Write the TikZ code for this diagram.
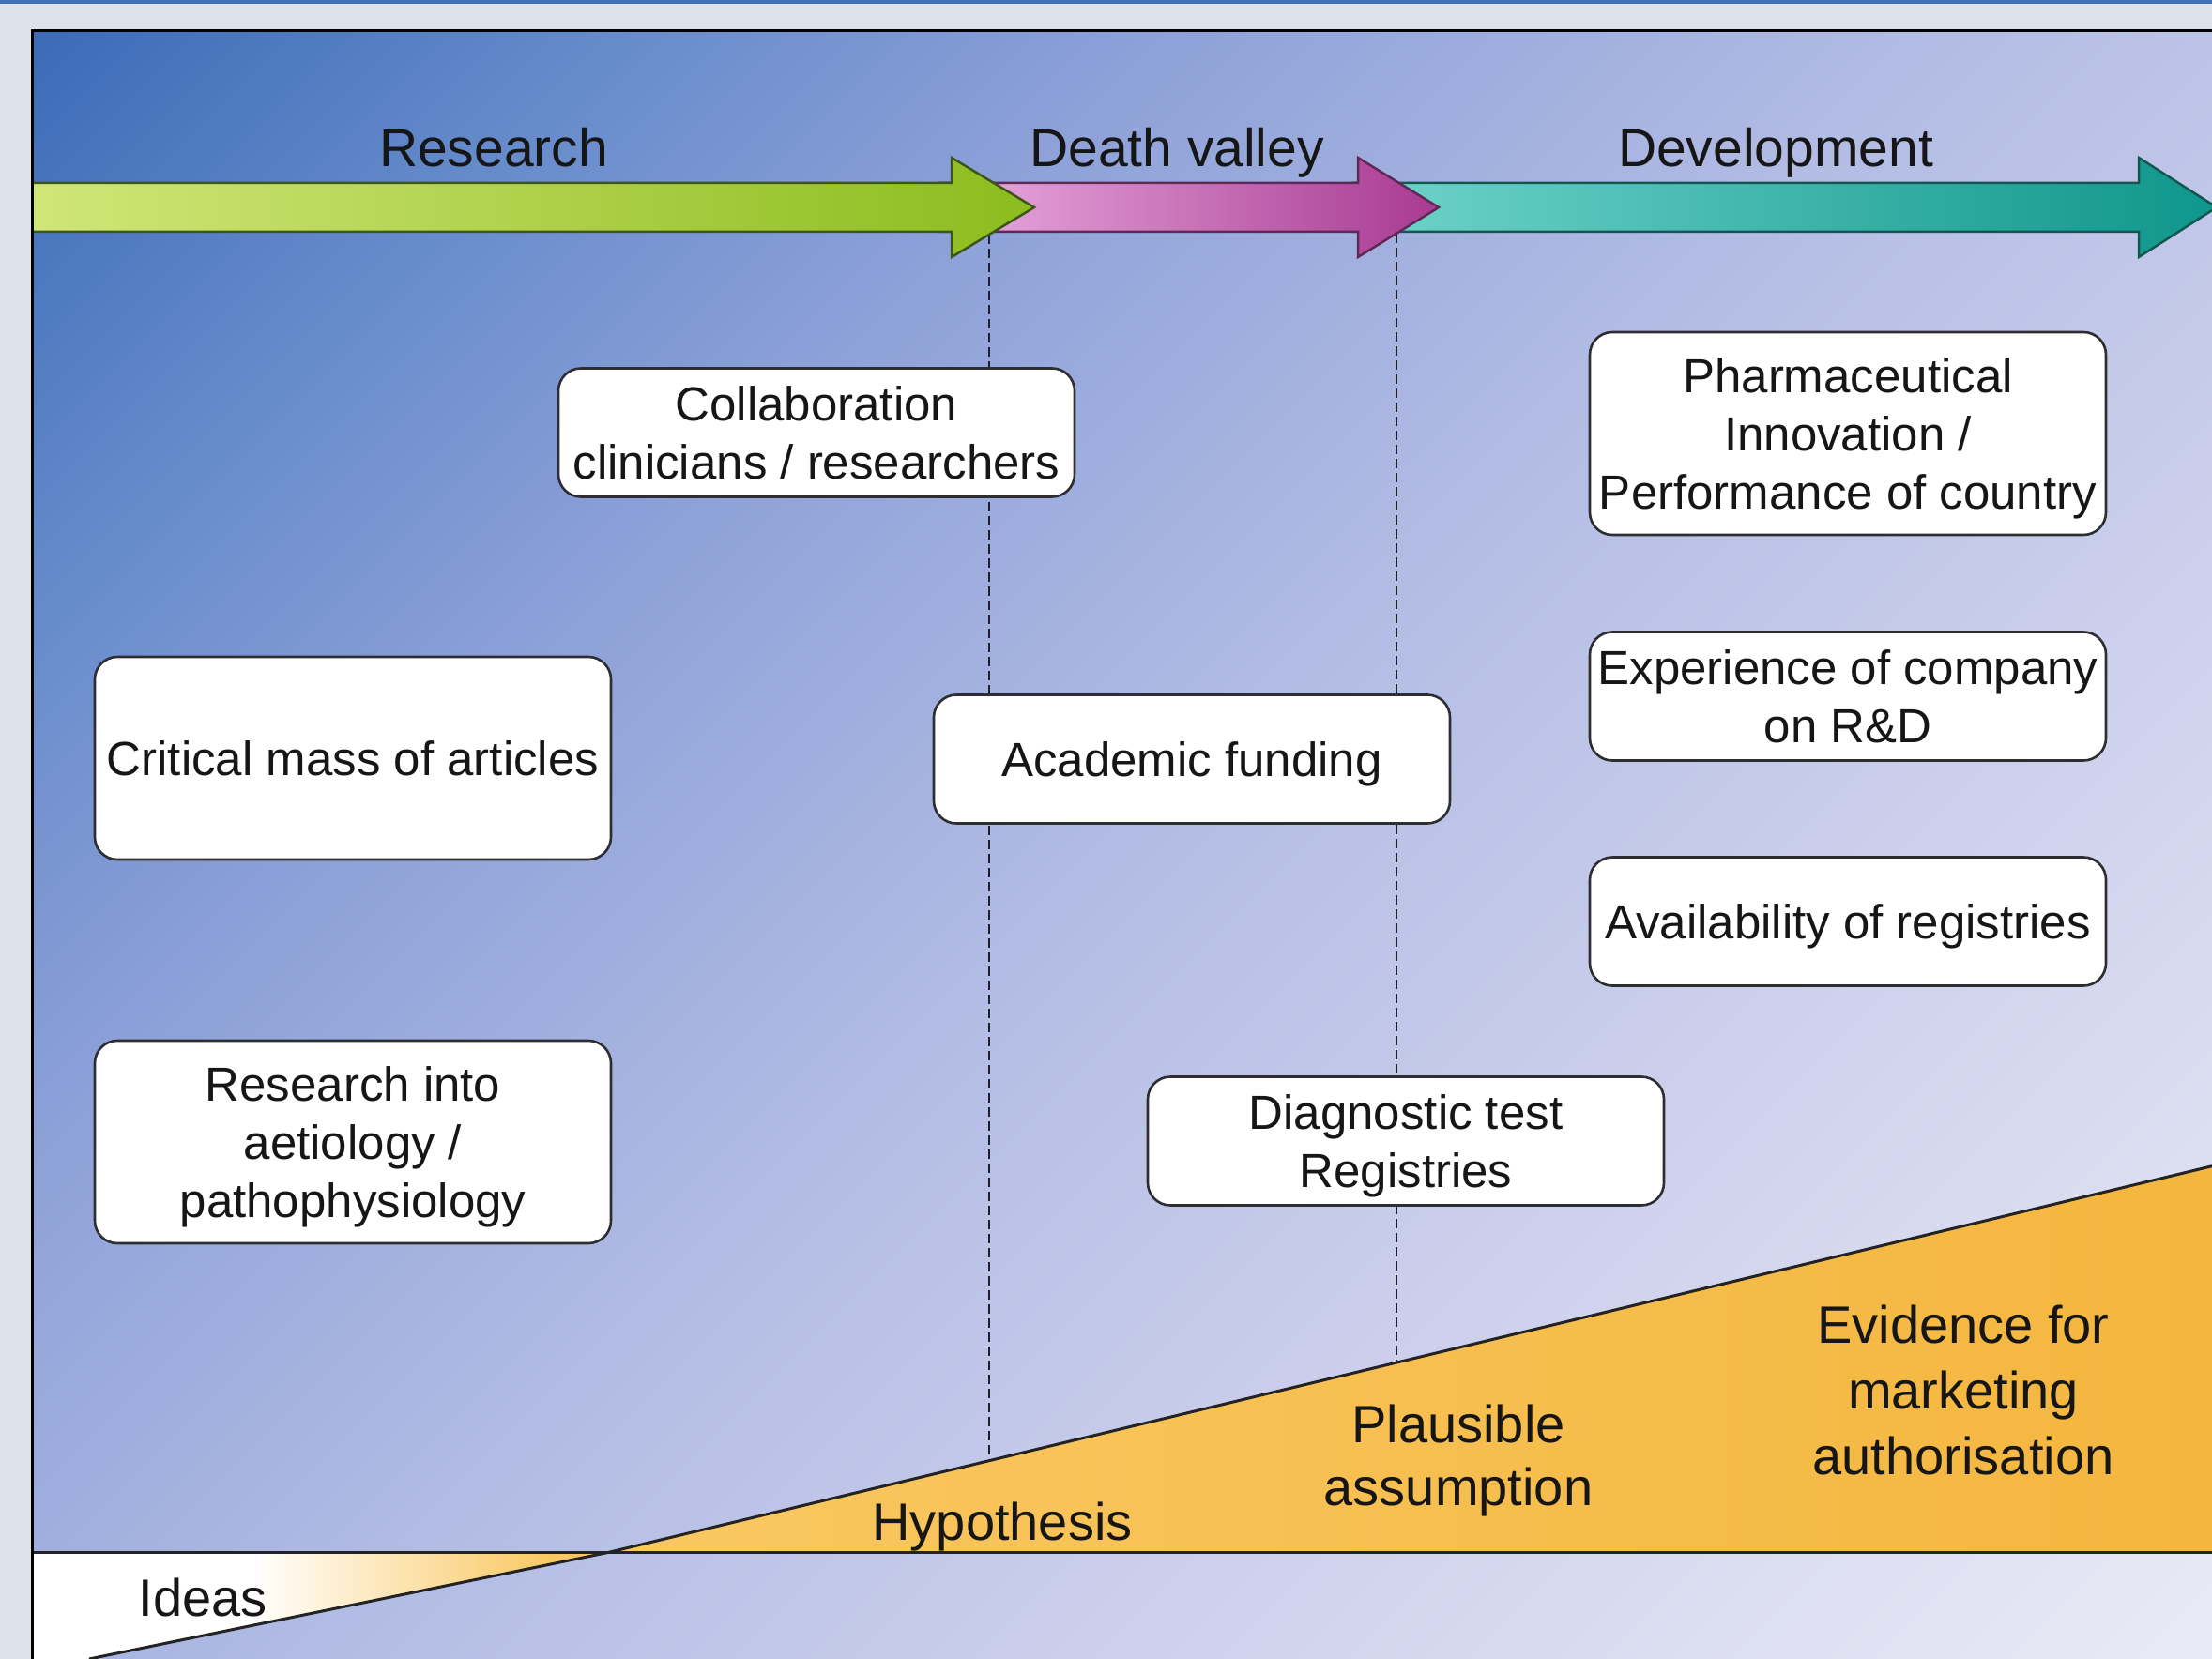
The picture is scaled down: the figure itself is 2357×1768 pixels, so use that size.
\documentclass[tikz,border=0pt]{standalone}
\usepackage{fontspec}
\setmainfont{Liberation Sans}
\definecolor{outerbg}{RGB}{221,226,235}
\definecolor{topblue}{RGB}{66,114,184}
\definecolor{bA}{RGB}{58,105,182}
\definecolor{bB}{RGB}{100,138,202}
\definecolor{bC}{RGB}{140,160,216}
\definecolor{bD}{RGB}{178,188,228}
\definecolor{bE}{RGB}{205,208,236}
\definecolor{bF}{RGB}{234,235,246}
\definecolor{rA}{RGB}{208,230,120}
\definecolor{rB}{RGB}{140,188,30}
\definecolor{rL}{RGB}{60,85,25}
\definecolor{pA}{RGB}{234,172,224}
\definecolor{pB}{RGB}{168,58,146}
\definecolor{pL}{RGB}{95,40,85}
\definecolor{tA}{RGB}{112,212,202}
\definecolor{tB}{RGB}{15,150,140}
\definecolor{tL}{RGB}{20,85,80}
\definecolor{oA}{RGB}{249,200,98}
\definecolor{oB}{RGB}{244,182,62}
\definecolor{boxline}{RGB}{45,45,50}
\definecolor{txt}{RGB}{22,22,22}
\definecolor{dashc}{RGB}{30,30,45}
\definecolor{edgec}{RGB}{35,35,35}
\pgfdeclarehorizontalshading{bgdiag}{100bp}{color(0bp)=(bA); color(14bp)=(bA); color(25bp)=(bB); color(35bp)=(bC); color(50bp)=(bD); color(65bp)=(bE); color(86bp)=(bF); color(100bp)=(bF)}
\pgfdeclarehorizontalshading{ideasshade}{100bp}{color(0bp)=(white); color(25bp)=(white); color(44bp)=(white); color(70bp)=(oA); color(100bp)=(oA)}
\begin{document}
\begin{tikzpicture}[x=1pt,y=-1pt,
  box/.style={draw=boxline, line width=2.6pt, fill=white, rounded corners=24pt,
    minimum width=550pt, align=center, inner sep=0pt, text=txt, text depth=0pt,
    font=\fontsize{51}{62}\selectfont},
  boxtwo/.style={box, minimum height=137pt},
  boxthree/.style={box, minimum height=216pt},
  phase/.style={font=\fontsize{57}{68}\selectfont, text=txt, anchor=base, inner sep=0pt},
  stage/.style={text=txt, align=center, inner sep=0pt},
  arrowline/.style={line width=2.5pt, line join=miter},
  dashline/.style={draw=dashc, line width=2pt, dash pattern=on 10pt off 5pt},
  edgeline/.style={draw=edgec, line width=3pt}
]
\useasboundingbox (0,0) rectangle (2357,1768);
% outer frame
\fill[outerbg] (0,0) rectangle (2357,1768);
\fill[topblue] (0,0) rectangle (2357,4);
% panel
\shade[shading=bgdiag, shading angle=-45] (34,33) rectangle (2357,1768);

% evidence wedges
\coordinate (cross) at (650,1654);
\coordinate (ideasend) at (95,1768);
\coordinate (wedgetop) at (2360,1242);
\coordinate (wedgebot) at (2360,1654);
\coordinate (baseleft) at (34,1654);
\shade[left color=oA, right color=oB] (cross) -- (wedgetop) -- (wedgebot) -- cycle;
\shade[shading=ideasshade] (baseleft) -- (cross) -- (ideasend) -- (34,1768) -- cycle;

% dashed phase separators
\coordinate (sepAtop) at (1054,250);
\coordinate (sepAbot) at (1054,1557);
\coordinate (sepBtop) at (1488,249);
\coordinate (sepBbot) at (1488,1452);
\draw[dashline] (sepAtop) -- (sepAbot);
\draw[dashline] (sepBtop) -- (sepBbot);

% phase arrows
\shade[left color=tA, right color=tB] (1440,195) -- (2279,195) -- (2279,168) -- (2362,221) -- (2279,274) -- (2279,247) -- (1440,247) -- cycle;
\draw[arrowline, tL] (1440,195) -- (2279,195) -- (2279,168) -- (2362,221) -- (2279,274) -- (2279,247) -- (1440,247);
\shade[left color=pA, right color=pB] (1000,195) -- (1447,195) -- (1447,168) -- (1533,221) -- (1447,274) -- (1447,247) -- (1000,247) -- cycle;
\draw[arrowline, pL] (1000,195) -- (1447,195) -- (1447,168) -- (1533,221) -- (1447,274) -- (1447,247) -- (1000,247);
\shade[left color=rA, right color=rB] (34,195) -- (1014,195) -- (1014,168) -- (1102,221) -- (1014,274) -- (1014,247) -- (34,247) -- cycle;
\draw[arrowline, rL] (34,195) -- (1014,195) -- (1014,168) -- (1102,221) -- (1014,274) -- (1014,247) -- (34,247);

\node[phase] (research) at (526,178) {Research};
\node[phase] (valley) at (1254,178) {Death valley};
\node[phase] (development) at (1892,178) {Development};

% boxes
\node[boxtwo] (collab) at (870,461) {Collaboration\\clinicians / researchers};
\node[boxthree] (critical) at (376,808) {Critical mass of articles};
\node[boxthree] (aetiology) at (376,1217) {Research into\\aetiology /\\pathophysiology};
\node[boxtwo] (funding) at (1270,809) {Academic funding};
\node[boxtwo] (diagnostic) at (1498,1216) {Diagnostic test\\Registries};
\node[boxthree] (pharma) at (1969,462) {Pharmaceutical\\Innovation /\\Performance of country};
\node[boxtwo] (experience) at (1969,742) {Experience of company\\on R\&D};
\node[boxtwo] (registries) at (1969,982) {Availability of registries};

% wedge edges
\draw[edgeline] (ideasend) -- (cross) -- (wedgetop);
\draw[edgeline] (baseleft) -- (wedgebot);

% panel border
\draw[line width=3pt, black] (34,1770) -- (34,33) -- (2360,33);

% stage labels
\node[stage, font=\fontsize{56}{67}\selectfont] (plausible) at (1554,1557) {Plausible\\assumption};
\node[stage, font=\fontsize{56}{70}\selectfont] (evidence) at (2092,1481) {Evidence for\\marketing\\authorisation};
\node[phase, font=\fontsize{56}{67}\selectfont] (hypothesis) at (1068,1641) {Hypothesis};
\node[phase, font=\fontsize{56}{67}\selectfont] (ideas) at (216,1722) {Ideas};
\end{tikzpicture}
\end{document}
